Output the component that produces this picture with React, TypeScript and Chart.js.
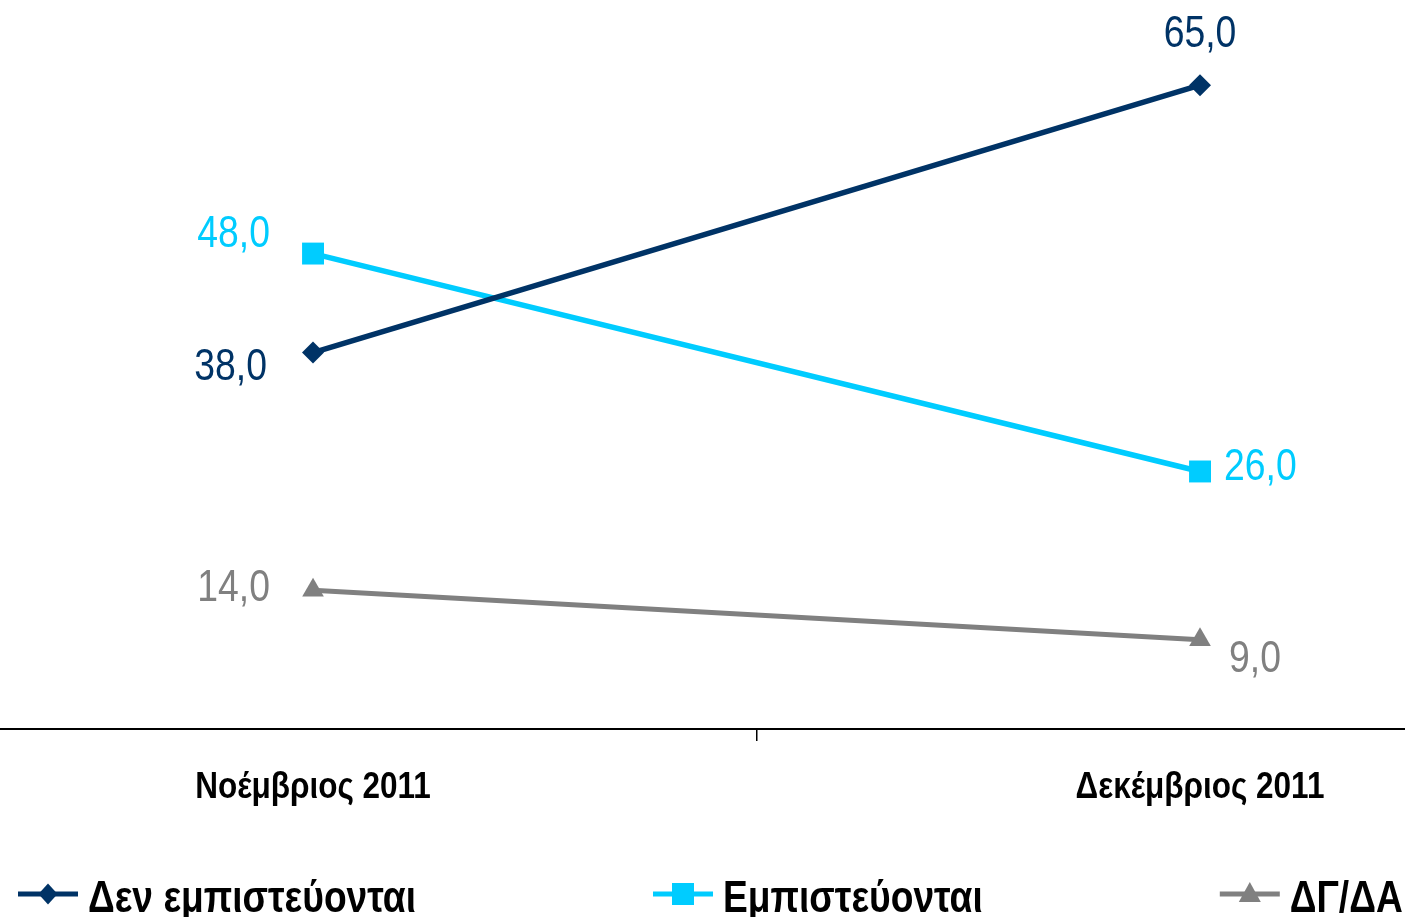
import React, { useEffect, useRef } from 'react';
import { Chart, registerables } from 'chart.js';

Chart.register(...registerables);

// ---- data ----
const categories = ['Νοέμβριος 2011', 'Δεκέμβριος 2011'];
const seriesNames = ['Δεν εμπιστεύονται', 'Εμπιστεύονται', 'ΔΓ/ΔΑ'];
const notTrust = [38, 65];
const trust = [48, 26];
const dontKnow = [14, 9];

// ---- styles ----
const colors = ['#003366', '#00CCFF', '#808080'];
const pointStyles = ['rectRot', 'rect', 'triangle'];
const pointRadii = [11, 15.5, 12.5];
// label placement per series per point: align, dx, dy (baseline offset from the point)
const labelPlacement = [
  [{ align: 'right', dx: -46, dy: 27 }, { align: 'center', dx: 0, dy: -38 }],
  [{ align: 'right', dx: -43, dy: -7 }, { align: 'left', dx: 24, dy: 9 }],
  [{ align: 'right', dx: -43, dy: 11 }, { align: 'left', dx: 29, dy: 32 }],
];

const SX_LABEL = 0.83;
const SX_CAT = 0.875;
const SX_LEGEND = 0.845;

function drawText(ctx: CanvasRenderingContext2D, text: string, x: number, y: number, font: string, color: string, align: string, sx: number) {
  ctx.save();
  ctx.font = font;
  ctx.fillStyle = color;
  ctx.textBaseline = 'alphabetic';
  ctx.textAlign = 'left';
  const w = ctx.measureText(text).width * sx;
  const left = align === 'left' ? x : align === 'right' ? x - w : x - w / 2;
  ctx.translate(left, y);
  ctx.scale(sx, 1);
  ctx.fillText(text, 0, 0);
  ctx.restore();
  return w;
}

function drawMarker(ctx: CanvasRenderingContext2D, style: string, x: number, y: number, color: string) {
  ctx.save();
  ctx.fillStyle = color;
  ctx.beginPath();
  if (style === 'rectRot') {
    ctx.moveTo(x - 9.5, y);
    ctx.lineTo(x, y - 10.5);
    ctx.lineTo(x + 9.5, y);
    ctx.lineTo(x, y + 10.5);
  } else if (style === 'rect') {
    ctx.rect(x - 11, y - 11, 22, 22);
  } else {
    ctx.moveTo(x, y - 12);
    ctx.lineTo(x + 11, y + 8);
    ctx.lineTo(x - 11, y + 8);
  }
  ctx.closePath();
  ctx.fill();
  ctx.restore();
}

const annotatePlugin = {
  id: 'annotate',
  afterDatasetsDraw(chart: any) {
    const ctx = chart.ctx as CanvasRenderingContext2D;
    chart.data.datasets.forEach((ds: any, di: number) => {
      const meta = chart.getDatasetMeta(di);
      meta.data.forEach((pt: any, i: number) => {
        const pl = labelPlacement[di][i];
        const v = ds.data[i].y;
        const txt = v.toFixed(1).replace('.', ',');
        drawText(ctx, txt, pt.x + pl.dx, pt.y + pl.dy, '45px "Liberation Sans", Arial, sans-serif', colors[di], pl.align, SX_LABEL);
      });
    });
  },
  afterDraw(chart: any) {
    const ctx = chart.ctx as CanvasRenderingContext2D;
    const xs = chart.scales.x;
    const bottom = chart.chartArea.bottom;
    categories.forEach((c, i) => {
      drawText(ctx, c, xs.getPixelForValue(i), bottom + 69, 'bold 36px "Liberation Sans", Arial, sans-serif', '#000000', 'center', SX_CAT);
    });
    // legend
    const baseline = bottom + 183;
    const lineY = baseline - 18;
    let x = 18;
    const gap = 237;
    seriesNames.forEach((name, i) => {
      ctx.save();
      ctx.strokeStyle = colors[i];
      ctx.lineWidth = 5;
      ctx.beginPath();
      ctx.moveTo(x, lineY);
      ctx.lineTo(x + 60, lineY);
      ctx.stroke();
      ctx.restore();
      drawMarker(ctx, pointStyles[i], x + 30, lineY, colors[i]);
      const w = drawText(ctx, name, x + 70, baseline, 'bold 44px "Liberation Sans", Arial, sans-serif', '#000000', 'left', SX_LEGEND);
      x = x + 70 + w + gap;
    });
  },
};

export default function App() {
  const ref = useRef<HTMLCanvasElement>(null);
  useEffect(() => {
    if (!ref.current) return;
    const series = [notTrust, trust, dontKnow];
    const chart = new Chart(ref.current, {
      type: 'line',
      data: {
        datasets: series.map((vals, di) => ({
          label: seriesNames[di],
          data: vals.map((v, i) => ({ x: i, y: v })),
          borderColor: colors[di],
          backgroundColor: colors[di],
          borderWidth: di === 2 ? 5 : 5.5,
          pointStyle: pointStyles[di] as any,
          pointRadius: pointRadii[di],
          pointBorderWidth: 0,
          pointBackgroundColor: colors[di],
          tension: 0,
          clip: false as any,
        })),
      },
      options: {
        animation: false,
        responsive: false,
        maintainAspectRatio: false,
        layout: { padding: 0, autoPadding: false },
        plugins: { legend: { display: false }, tooltip: { enabled: false } },
        scales: {
          x: {
            type: 'linear',
            min: -0.3529,
            max: 1.2311,
            afterBuildTicks: (s: any) => { s.ticks = [{ value: 0.5 }]; },
            afterFit: (s: any) => { s.height = 188; },
            ticks: { display: false },
            grid: { drawOnChartArea: false, drawTicks: true, tickLength: 12, color: '#000000', lineWidth: 1.5 },
            border: { display: true, color: '#000000', width: 2 },
          },
          y: { display: false, min: 0, max: 73.6 },
        },
      },
      plugins: [annotatePlugin],
    });
    return () => chart.destroy();
  }, []);
  return (
    <div style={{ position: 'fixed', left: 0, top: 0, width: 1405, height: 917, background: '#ffffff' }}>
      <canvas ref={ref} width={1405} height={917} style={{ display: 'block' }} />
    </div>
  );
}
